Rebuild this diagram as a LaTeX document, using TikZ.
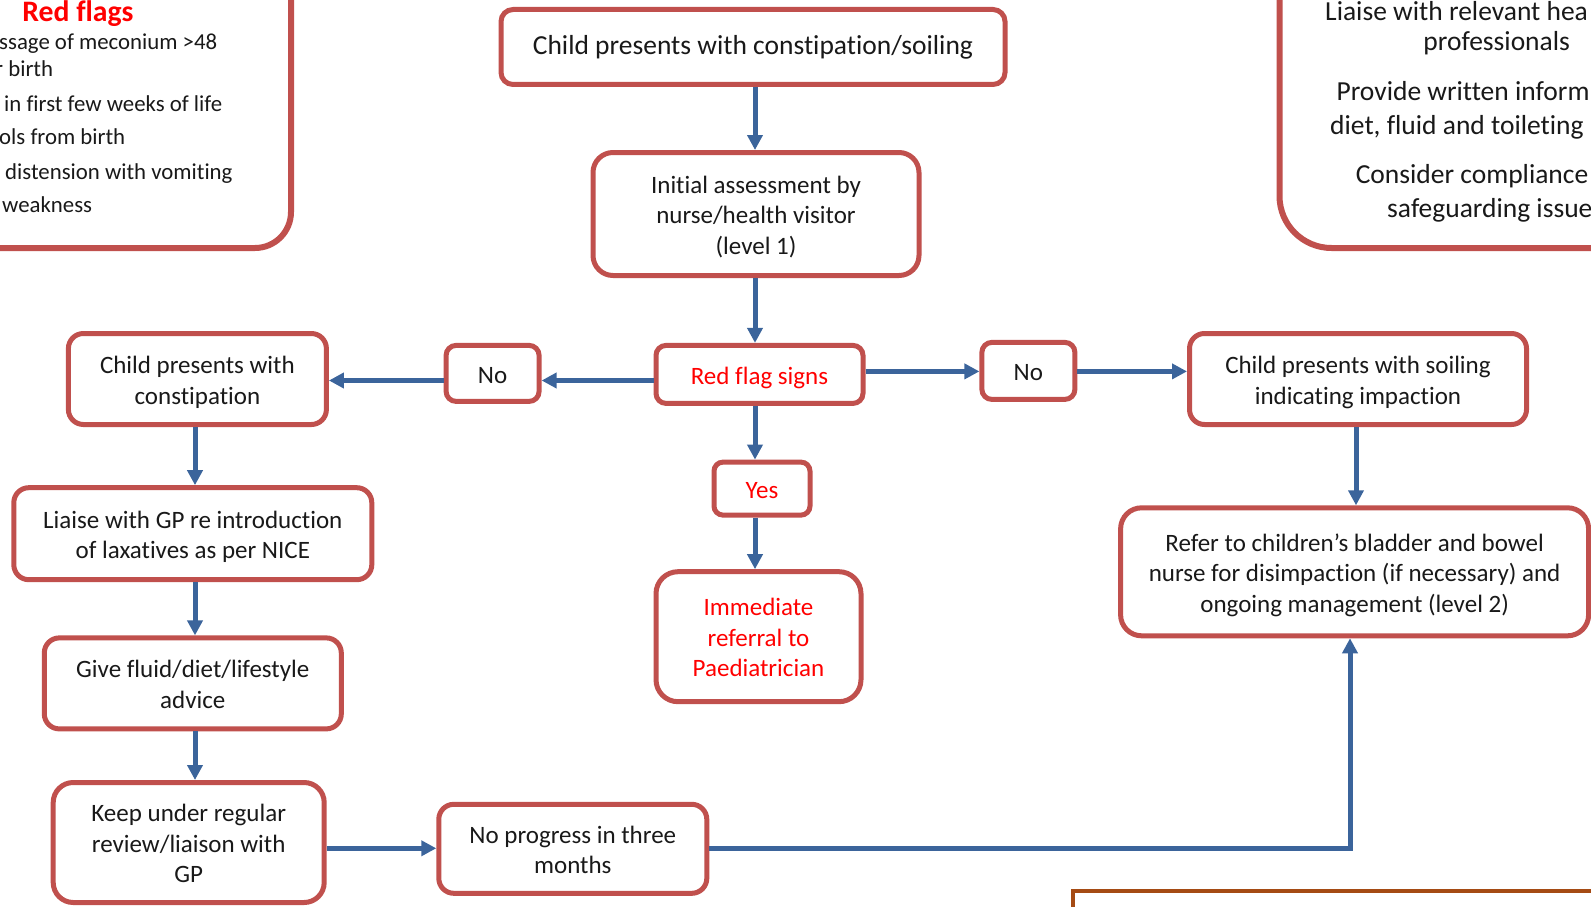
\documentclass[tikz,border=0pt]{standalone}
\usepackage{fontspec}
\setmainfont{Carlito}[Ligatures={NoCommon}]
\usetikzlibrary{arrows.meta,calc}

\definecolor{boxred}{RGB}{192,80,77}
\definecolor{flowblue}{RGB}{59,100,155}
\definecolor{alertred}{RGB}{255,0,0}
\definecolor{ink}{RGB}{25,25,25}
\definecolor{rust}{RGB}{165,75,20}

\newcommand\flowfont{\fontsize{25}{30.5}\selectfont}
\newcommand\leadfont{\fontsize{27.5}{33}\selectfont}
\newcommand\listfont{\fontsize{22.8}{27.4}\selectfont}
\newcommand\panelfont{\fontsize{27.5}{33.5}\selectfont}
\newcommand\flagtitlefont{\fontsize{29.7}{34}\selectfont\bfseries}
% struts giving every box text the same first-line height and last-line depth
\newcommand\hiStrut{\rule{0pt}{1em}}
\newcommand\loStrut{\rule[-0.22em]{0pt}{0pt}}

\begin{document}
\begin{tikzpicture}[x=1pt,y=-1pt,
  fbox/.style={draw=boxred, line width=5pt, fill=white, rounded corners=#1,
    align=center, text=ink, inner sep=0pt, outer sep=2.5pt, font=\flowfont},
  fbox/.default=14pt,
  panel/.style={draw=boxred, line width=6pt, fill=white, rounded corners=#1,
    inner sep=0pt, outer sep=3pt},
  alert/.style={text=alertred},
  arr/.style={draw=flowblue, line width=5pt, -{Triangle[length=15pt,width=15pt]}},
  frag/.style={anchor=base west, inner sep=0pt, text=ink},
]
\useasboundingbox (0,0) rectangle (1591,907);
\clip (0,0) rectangle (1591,907);

% side panels, partly outside the frame
\node[panel=36pt, minimum width=420pt, minimum height=320pt, anchor=south east] (flags) at (294,251) {};
\node[panel=52pt, minimum width=420pt, minimum height=320pt, anchor=south west] (advice) at (1276.5,251) {};
\node[draw=rust, line width=4pt, outer sep=2pt, inner sep=0pt, minimum width=600pt, minimum height=100pt, anchor=north west] (notes) at (1071,889) {};

% red flags list
\node[anchor=base, inner sep=0pt, text=alertred, font=\flagtitlefont] (flagtitle) at (78,21.1) {Red flags};
\node[frag, font=\listfont] (f1) at (-1,49.4) {ssage of meconium >48};
\node[frag, font=\listfont] (f2) at (-5,76.8) {r birth};
\node[frag, font=\listfont] (f3) at (4,111.3) {in first few weeks of life};
\node[frag, font=\listfont] (f4) at (-1,144.8) {ols from birth};
\node[frag, font=\listfont] (f5) at (5,179.3) {distension with vomiting};
\node[frag, font=\listfont] (f6) at (2,212.8) {weakness};

% advice panel
\node[frag, font=\panelfont] (a1) at (1325,20.5) {Liaise with relevant hea};
\node[anchor=base, inner sep=0pt, text=ink, font=\panelfont] (a2) at (1496.7,50.9) {professionals};
\node[frag, font=\panelfont] (a3) at (1336.4,100.6) {Provide written inform};
\node[frag, font=\panelfont] (a4) at (1330,134.1) {diet, fluid and toileting};
\node[frag, font=\panelfont] (a5) at (1355.6,183.8) {Consider compliance};
\node[frag, font=\panelfont] (a6) at (1387,217.3) {safeguarding issue};

% centre column
\node[fbox=12pt, minimum width=504pt, minimum height=75pt, font=\leadfont] (top) at (753,47) {Child presents with constipation/soiling};
\node[fbox=20pt, minimum width=326pt, minimum height=123pt] (init) at (756,214) {\hiStrut Initial assessment by\\nurse/health visitor\\(level 1)\loStrut};
\node[fbox=10pt, minimum width=207pt, minimum height=58pt, alert] (rf) at (759.5,374.4) {\hiStrut Red flag signs\loStrut};
\node[fbox=9pt, minimum width=96pt, minimum height=53pt, alert] (yes) at (762,488.6) {\hiStrut Yes\loStrut};
\node[fbox=22pt, minimum width=205pt, minimum height=130pt, alert] (imm) at (758.5,636.7) {\hiStrut Immediate\\referral to\\Paediatrician\loStrut};

% left branch
\node[fbox=10pt, minimum width=93pt, minimum height=56pt] (noL) at (492.6,373.4) {\hiStrut No\loStrut};
\node[fbox=15pt, minimum width=258pt, minimum height=91pt] (cc) at (197.4,379) {\hiStrut Child presents with\\constipation\loStrut};
\node[fbox=15pt, minimum width=358pt, minimum height=92pt] (gp) at (192.8,533.7) {\hiStrut Liaise with GP re introduction\\of laxatives as per NICE\loStrut};
\node[fbox=15pt, minimum width=297pt, minimum height=91pt] (fluid) at (192.8,683.4) {\hiStrut Give fluid/diet/lifestyle\\advice\loStrut};
\node[fbox=20pt, minimum width=271pt, minimum height=120pt] (keep) at (188.7,842.5) {\hiStrut Keep under regular\\review/liaison with\\GP\loStrut};
\node[fbox=15pt, minimum width=268pt, minimum height=89pt] (noprog) at (572.8,848.8) {\hiStrut No progress in three\\months\loStrut};

% right branch
\node[fbox=10pt, minimum width=93pt, minimum height=57pt] (noR) at (1028.4,370.9) {\hiStrut No\loStrut};
\node[fbox=15pt, minimum width=337pt, minimum height=91pt] (soil) at (1358,379) {\hiStrut Child presents with soiling\\indicating impaction\loStrut};
\node[fbox=21pt, minimum width=468pt, minimum height=128pt] (refer) at (1354.6,571.8) {\hiStrut Refer to children’s bladder and bowel\\nurse for disimpaction (if necessary) and\\ongoing management (level 2)\loStrut};

% connector guides
\coordinate (mid) at (755,0);
\coordinate (lcol) at (195,0);
\coordinate (rcol) at (1356,0);
\coordinate (rowL) at (0,380.5);
\coordinate (rowR) at (0,371.4);
\coordinate (rowB) at (0,848.3);
\coordinate (bend) at (1350,848.3);

% connectors
\draw[arr] (top.south -| mid) -- (init.north -| mid);
\draw[arr] (init.south -| mid) -- (rf.north -| mid);
\draw[arr] (rf.south -| mid) -- (yes.north -| mid);
\draw[arr] (yes.south -| mid) -- (imm.north -| mid);
\draw[arr] (rf.west |- rowL) -- (noL.east |- rowL);
\draw[arr] (noL.west |- rowL) -- (cc.east |- rowL);
\draw[arr] (rf.east |- rowR) -- (noR.west |- rowR);
\draw[arr] (noR.east |- rowR) -- (soil.west |- rowR);
\draw[arr] (soil.south -| rcol) -- (refer.north -| rcol);
\draw[arr] (cc.south -| lcol) -- (gp.north -| lcol);
\draw[arr] (gp.south -| lcol) -- (fluid.north -| lcol);
\draw[arr] (fluid.south -| lcol) -- (keep.north -| lcol);
\draw[arr] (keep.east |- rowB) -- (noprog.west |- rowB);
\draw[arr] (noprog.east |- rowB) -- (bend) -- (refer.south -| bend);
\end{tikzpicture}
\end{document}
